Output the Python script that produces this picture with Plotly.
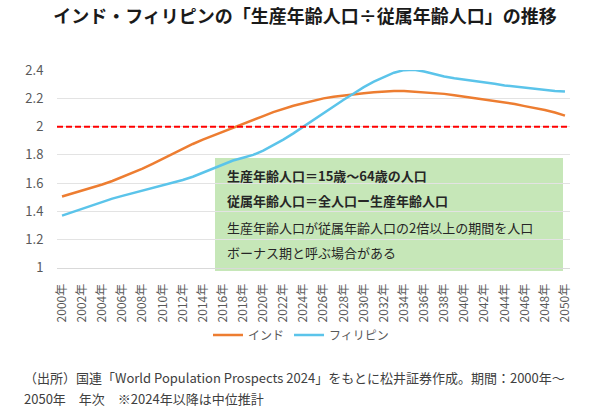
import plotly.graph_objects as go

years = list(range(2000, 2051))
india = [1.505, 1.525, 1.548, 1.568, 1.590, 1.615, 1.643, 1.672, 1.703, 1.737,
         1.773, 1.810, 1.845, 1.877, 1.908, 1.935, 1.963, 1.990, 2.017, 2.045,
         2.075, 2.103, 2.127, 2.148, 2.165, 2.183, 2.200, 2.212, 2.222, 2.230,
         2.237, 2.243, 2.248, 2.252, 2.252, 2.248, 2.245, 2.240, 2.232, 2.222,
         2.212, 2.205, 2.195, 2.182, 2.172, 2.160, 2.145, 2.133, 2.118, 2.100,
         2.078]
philippines = [1.370, 1.395, 1.420, 1.440, 1.465, 1.490, 1.510, 1.528, 1.545, 1.565,
               1.582, 1.602, 1.622, 1.645, 1.675, 1.705, 1.735, 1.760, 1.780, 1.800,
               1.830, 1.868, 1.908, 1.952, 2.000, 2.050, 2.100, 2.145, 2.190, 2.235,
               2.280, 2.318, 2.352, 2.382, 2.400, 2.403, 2.390, 2.370, 2.355, 2.342,
               2.333, 2.325, 2.315, 2.303, 2.292, 2.283, 2.275, 2.268, 2.258, 2.252,
               2.248]
x_tick_years = list(range(2000, 2051, 2))
x_tick_labels = [f"{y}年" for y in x_tick_years]
y_tick_vals = [1, 1.2, 1.4, 1.6, 1.8, 2, 2.2, 2.4]
y_tick_labels = ["1", "1.2", "1.4", "1.6", "1.8", "2", "2.2", "2.4"]
threshold = 2.0

title_text = "インド・フィリピンの「生産年齢人口÷従属年齢人口」の推移"
box_lines = [
    ("<b>生産年齢人口＝15歳～64歳の人口</b>", 175),
    ("<b>従属年齢人口＝全人口ー生産年齢人口</b>", 200),
    ("生産年齢人口が従属年齢人口の2倍以上の期間を人口", 227),
    ("ボーナス期と呼ぶ場合がある", 252),
]
footnotes = [
    ("（出所）国連「World Population Prospects 2024」をもとに松井証券作成。期間：2000年～", 377),
    ("2050年　年次　※2024年以降は中位推計", 398),
]

FONT = "Noto Sans CJK JP"
W, H = 600, 414
ML, MR, MT, MB = 57, 30, 70, 146
PW = W - ML - MR
PH = H - MT - MB

def px_to_xpaper(px):
    return (px - ML) / PW

def px_to_ypaper(py):
    return (H - MB - py) / PH

fig = go.Figure()
fig.add_trace(go.Scatter(x=years, y=india, mode="lines", name="インド",
                         line=dict(color="#ed7d31", width=2.5)))
fig.add_trace(go.Scatter(x=years, y=philippines, mode="lines", name="フィリピン",
                         line=dict(color="#5bc4ea", width=2.5)))

# green note box
fig.add_shape(type="rect", xref="paper", yref="paper",
              x0=px_to_xpaper(215), x1=px_to_xpaper(563),
              y0=px_to_ypaper(271), y1=px_to_ypaper(158),
              fillcolor="#c6e7b8", line=dict(width=0), layer="below")
# threshold dashed line
fig.add_shape(type="line", xref="paper", yref="y", x0=0, x1=1,
              y0=threshold, y1=threshold,
              line=dict(color="#ff0000", width=2, dash="6px,3px"), layer="above")

for txt, py in box_lines:
    fig.add_annotation(text=txt, xref="paper", yref="paper",
                       x=px_to_xpaper(225), y=px_to_ypaper(py),
                       xanchor="left", yanchor="middle", showarrow=False,
                       font=dict(family=FONT, size=13, color="#262626"))

for txt, py in footnotes:
    fig.add_annotation(text=txt, xref="paper", yref="paper",
                       x=px_to_xpaper(22), y=px_to_ypaper(py),
                       xanchor="left", yanchor="middle", showarrow=False,
                       font=dict(family=FONT, size=13, color="#404040"))

fig.update_layout(
    width=W, height=H,
    margin=dict(l=ML, r=MR, t=MT, b=MB),
    paper_bgcolor="white", plot_bgcolor="white",
    font=dict(family=FONT, color="#595959"),
    title=dict(text="<b>" + title_text + "</b>", x=px_to_xpaper(305), xref="paper",
               xanchor="center", y=1 - 17 / H, yref="container", yanchor="middle",
               font=dict(family=FONT, size=18, color="#1a1a1a")),
    showlegend=True,
    legend=dict(orientation="h", x=px_to_xpaper(301), xanchor="center",
                y=px_to_ypaper(335), yanchor="middle", itemwidth=30,
                font=dict(family=FONT, size=12, color="#595959"),
                bgcolor="rgba(0,0,0,0)"),
    xaxis=dict(range=[1999.5, 2050.5], tickvals=x_tick_years, ticktext=x_tick_labels,
               tickangle=-90, showgrid=False, zeroline=False,
               showline=True, linecolor="#d9d9d9", linewidth=1,
               ticks="outside", ticklen=10, tickcolor="rgba(0,0,0,0)",
               tickfont=dict(family=FONT, size=12, color="#595959")),
    yaxis=dict(range=[0.999, 2.401], tickvals=y_tick_vals, ticktext=y_tick_labels,
               showgrid=True, gridcolor="#e3e3e3", gridwidth=1, zeroline=False,
               ticks="outside", ticklen=10, tickcolor="rgba(0,0,0,0)",
               tickfont=dict(family=FONT, size=13, color="#595959")),
)

fig.write_html("out.html", config={"displayModeBar": False},
               post_script="document.body.style.margin='0';document.body.style.overflow='hidden';")
